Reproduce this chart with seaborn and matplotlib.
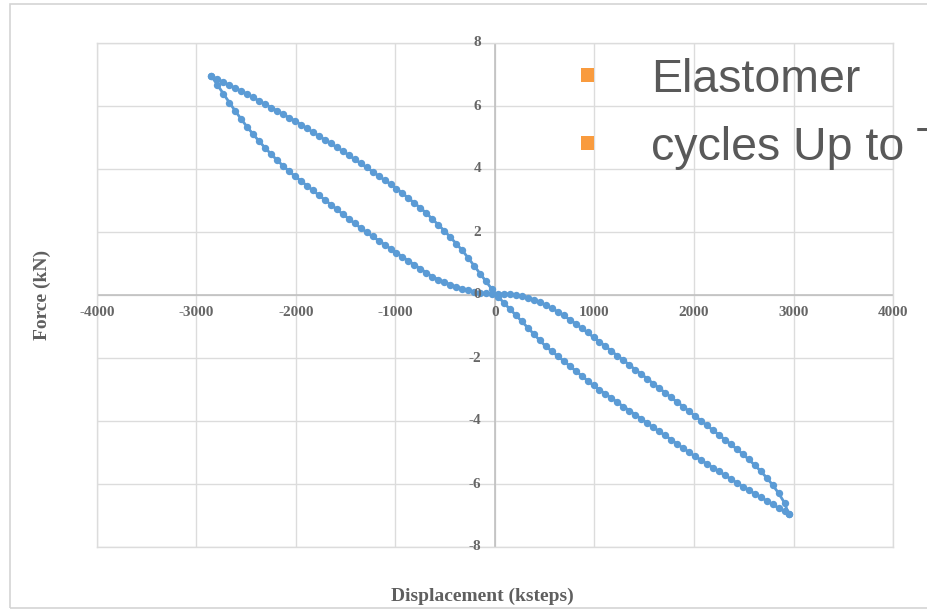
import matplotlib
matplotlib.use("Agg")
import matplotlib.pyplot as plt
import seaborn as sns
import pandas as pd
from matplotlib.patches import Rectangle

# ---------------- data ----------------
disp_grid = [
    -2850, -2790, -2730, -2670, -2610, -2550, -2490, -2430, -2370, -2310,
    -2250, -2190, -2130, -2070, -2010, -1950, -1890, -1830, -1770, -1710,
    -1650, -1590, -1530, -1470, -1410, -1350, -1290, -1230, -1170, -1110,
    -1050, -990, -930, -870, -810, -750, -690, -630, -570, -510,
    -450, -390, -330, -270, -210, -150, -90, -30, 30, 90,
    150, 210, 270, 330, 390, 450, 510, 570, 630, 690,
    750, 810, 870, 930, 990, 1050, 1110, 1170, 1230, 1290,
    1350, 1410, 1470, 1530, 1590, 1650, 1710, 1770, 1830, 1890,
    1950, 2010, 2070, 2130, 2190, 2250, 2310, 2370, 2430, 2490,
    2550, 2610, 2670, 2730, 2790, 2850, 2910, 2950,
]

# branch going from the top-left corner to the bottom-right corner
force_branch_a = [
    6.95, 6.85, 6.76, 6.66, 6.57, 6.47, 6.38, 6.27, 6.16, 6.06,
    5.95, 5.85, 5.74, 5.63, 5.53, 5.41, 5.29, 5.17, 5.05, 4.93,
    4.81, 4.69, 4.57, 4.44, 4.31, 4.18, 4.05, 3.92, 3.78, 3.65,
    3.52, 3.38, 3.23, 3.07, 2.92, 2.76, 2.60, 2.41, 2.23, 2.04,
    1.84, 1.63, 1.42, 1.18, 0.93, 0.68, 0.43, 0.18, -0.05, -0.25,
    -0.45, -0.64, -0.84, -1.04, -1.24, -1.44, -1.63, -1.78, -1.94, -2.09,
    -2.25, -2.41, -2.56, -2.72, -2.87, -3.01, -3.14, -3.27, -3.41, -3.54,
    -3.67, -3.80, -3.93, -4.07, -4.20, -4.33, -4.46, -4.59, -4.73, -4.86,
    -4.99, -5.12, -5.24, -5.36, -5.48, -5.60, -5.72, -5.84, -5.96, -6.08,
    -6.19, -6.31, -6.42, -6.53, -6.65, -6.76, -6.87, -6.95,
]

# return branch (listed in ascending displacement, drawn from right to left)
force_branch_b = [
    6.95, 6.67, 6.39, 6.11, 5.84, 5.58, 5.33, 5.10, 4.88, 4.67,
    4.47, 4.28, 4.10, 3.93, 3.77, 3.62, 3.47, 3.32, 3.17, 3.02,
    2.87, 2.72, 2.57, 2.42, 2.27, 2.13, 1.99, 1.86, 1.73, 1.60,
    1.47, 1.34, 1.21, 1.08, 0.96, 0.83, 0.71, 0.58, 0.49, 0.41,
    0.33, 0.26, 0.20, 0.15, 0.10, 0.07, 0.05, 0.04, 0.04, 0.04,
    0.03, 0.01, -0.03, -0.08, -0.15, -0.23, -0.32, -0.42, -0.53, -0.65,
    -0.78, -0.91, -1.05, -1.19, -1.34, -1.48, -1.63, -1.78, -1.93, -2.07,
    -2.22, -2.37, -2.51, -2.66, -2.81, -2.96, -3.10, -3.25, -3.40, -3.54,
    -3.69, -3.84, -3.99, -4.14, -4.29, -4.44, -4.59, -4.74, -4.89, -5.05,
    -5.22, -5.40, -5.59, -5.80, -6.03, -6.29, -6.60, -6.95,
]

x_ticks = [-4000, -3000, -2000, -1000, 0, 1000, 2000, 3000, 4000]
x_tick_labels = ["-4000", "-3000", "-2000", "-1000", "0", "1000", "2000", "3000", "4000"]
y_ticks = [-8, -6, -4, -2, 0, 2, 4, 6, 8]
y_tick_labels = ["-8", "-6", "-4", "-2", "0", "2", "4", "6", "8"]

x_title = "Displacement (ksteps)"
y_title = "Force (kN)"
overlay_lines = ["Elastomer", "cycles Up to T"]

# ---------------- figure ----------------
sns.set_theme(style="white")
plt.rcParams["font.family"] = ["Liberation Serif", "DejaVu Serif"]

W, H = 928, 614
fig = plt.figure(figsize=(W / 100, H / 100), dpi=100)
fig.patch.set_facecolor("white")

# faint outer frame of the slide picture
fig.patches.append(Rectangle((10 / W, 1 - 608 / H), 1.5, 604 / H, fill=False,
                             edgecolor="#d4d4d4", linewidth=1.2,
                             transform=fig.transFigure, zorder=0))

ax = fig.add_axes([97 / W, 1 - 547 / H, 796 / W, 504 / H])
ax.set_facecolor("white")

path_disp = disp_grid + disp_grid[::-1]
path_force = force_branch_a + force_branch_b[::-1]
df = pd.DataFrame({"disp": path_disp, "force": path_force})

sns.lineplot(data=df, x="disp", y="force", sort=False, estimator=None,
             marker="o", markersize=5.3, markeredgewidth=0,
             color="#5B9BD5", linewidth=2.0, ax=ax, zorder=3)

ax.set_xlim(-4000, 4000)
ax.set_ylim(-8, 8)
ax.set_xticks(x_ticks)
ax.set_yticks(y_ticks)
ax.tick_params(length=0, labelbottom=False, labelleft=False)
ax.grid(True, color="#dcdcdc", linewidth=1.0)
ax.set_axisbelow(True)
for s in ax.spines.values():
    s.set_color("#dcdcdc")
    s.set_linewidth(1.0)
ax.axhline(0, color="#bdbdbd", linewidth=1.1, zorder=1)
ax.axvline(0, color="#bdbdbd", linewidth=1.1, zorder=1)
ax.set_xlabel("")
ax.set_ylabel("")

tick_style = dict(fontsize=11, fontweight="bold", color="#666666",
                  textcoords="offset points", annotation_clip=False, zorder=4)
for xt, lab in zip(x_ticks, x_tick_labels):
    ax.annotate(lab, (xt, 0), xytext=(0, -12.5), ha="center", va="center", **tick_style)
for yt, lab in zip(y_ticks, y_tick_labels):
    ax.annotate(lab, (0, yt), xytext=(-10, 0), ha="right", va="center", **tick_style)

fig.text(42 / W, 1 - 295 / H, y_title, rotation=90, ha="center", va="center",
         fontsize=14, fontweight="bold", color="#5f5f5f")
fig.text(482 / W, 1 - 596 / H, x_title, ha="center", va="center",
         fontsize=14, fontweight="bold", color="#5f5f5f")

# overlay bullet text from the slide
bullet_color = "#F99B3E"
for (txt, base, btop) in zip(overlay_lines, [92, 160], [68, 136]):
    fig.patches.append(Rectangle((581 / W, 1 - (btop + 14) / H), 13 / W, 14 / H,
                                 facecolor=bullet_color, edgecolor="none",
                                 transform=fig.transFigure, zorder=6))
    fig.text(651 / W, 1 - base / H, txt, ha="left", va="baseline",
             fontsize=33.5, color="#595959",
             family=["Liberation Sans", "DejaVu Sans"], zorder=6)

fig.savefig("out.png", dpi=100)
